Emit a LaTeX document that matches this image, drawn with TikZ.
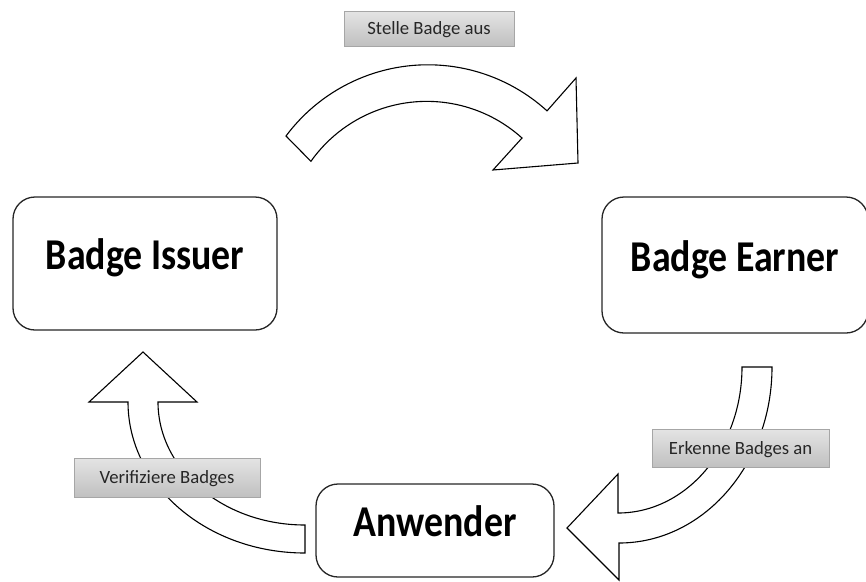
\documentclass[tikz,border=0pt]{standalone}
\usepackage{fontspec}
\setmainfont{Carlito}
\usepackage{graphicx}
\definecolor{boxline}{HTML}{262626}
\definecolor{tagline}{HTML}{A6A6A6}
\definecolor{tagtop}{HTML}{E4E4E4}
\definecolor{tagbottom}{HTML}{C0C0C0}
\definecolor{tagtext}{HTML}{262626}
\newcommand{\rolefont}[1]{\scalebox{0.86}[1]{\fontsize{44}{44}\selectfont\bfseries #1}}
\tikzset{
  role/.style={draw=boxline, line width=1.3pt, rounded corners=22pt, fill=white,
    text height=33pt, text depth=21pt, inner sep=0pt},
  tag/.style={draw=tagline, line width=0.8pt, top color=tagtop, bottom color=tagbottom,
    text=tagtext, font=\fontsize{18.7}{18.7}\selectfont, inner sep=0pt,
    text height=12pt, text depth=0pt},
  blockarrow/.style={draw=black, line width=1.1pt, fill=white, line join=miter}
}
\begin{document}
\begin{tikzpicture}[x=1pt, y=1pt, yscale=-1]
  \useasboundingbox (0,0) rectangle (866,581);

  % role boxes
  \node[role, minimum width=264, minimum height=133] (issuer) at (145,263.5) {\rolefont{Badge Issuer}};
  \node[role, minimum width=266, minimum height=136] (earner) at (735,265) {\rolefont{Badge Earner}};
  \node[role, minimum width=238, minimum height=93] (user) at (435,530.5) {\rolefont{Anwender}};

  % curved block arrow: issuer -> earner
  \draw[blockarrow]
    (286,136) arc[start angle=-143.3, end angle=-47.7, radius=177]
    -- (576,78) -- (578,163) -- (493,170) -- (522,138)
    arc[start angle=-47.9, end angle=-144.7, radius=142] -- cycle;

  % curved block arrow: earner -> user
  \draw[blockarrow]
    (742,367) -- (772,367)
    arc[start angle=0, end angle=90, x radius=153, y radius=176]
    -- (619,580) -- (567,528) -- (618,474) -- (618,513)
    arc[start angle=90, end angle=0, x radius=124, y radius=146] -- cycle;

  % curved block arrow: user -> issuer
  \draw[blockarrow]
    (143,352) -- (197,402) -- (158,402)
    arc[start angle=180, end angle=90, x radius=147, y radius=123]
    -- (305,553)
    arc[start angle=90, end angle=180, x radius=177, y radius=151]
    -- (89,402) -- cycle;

  % step labels
  \node[tag, minimum width=170, minimum height=35] (issue) at (429,28.5) {Stelle Badge aus};
  \node[tag, minimum width=177, minimum height=38] (accept) at (740.5,448) {Erkenne Badges an};
  \node[tag, minimum width=186, minimum height=39] (verify) at (167,477.5) {Verifiziere Badges};
\end{tikzpicture}
\end{document}
